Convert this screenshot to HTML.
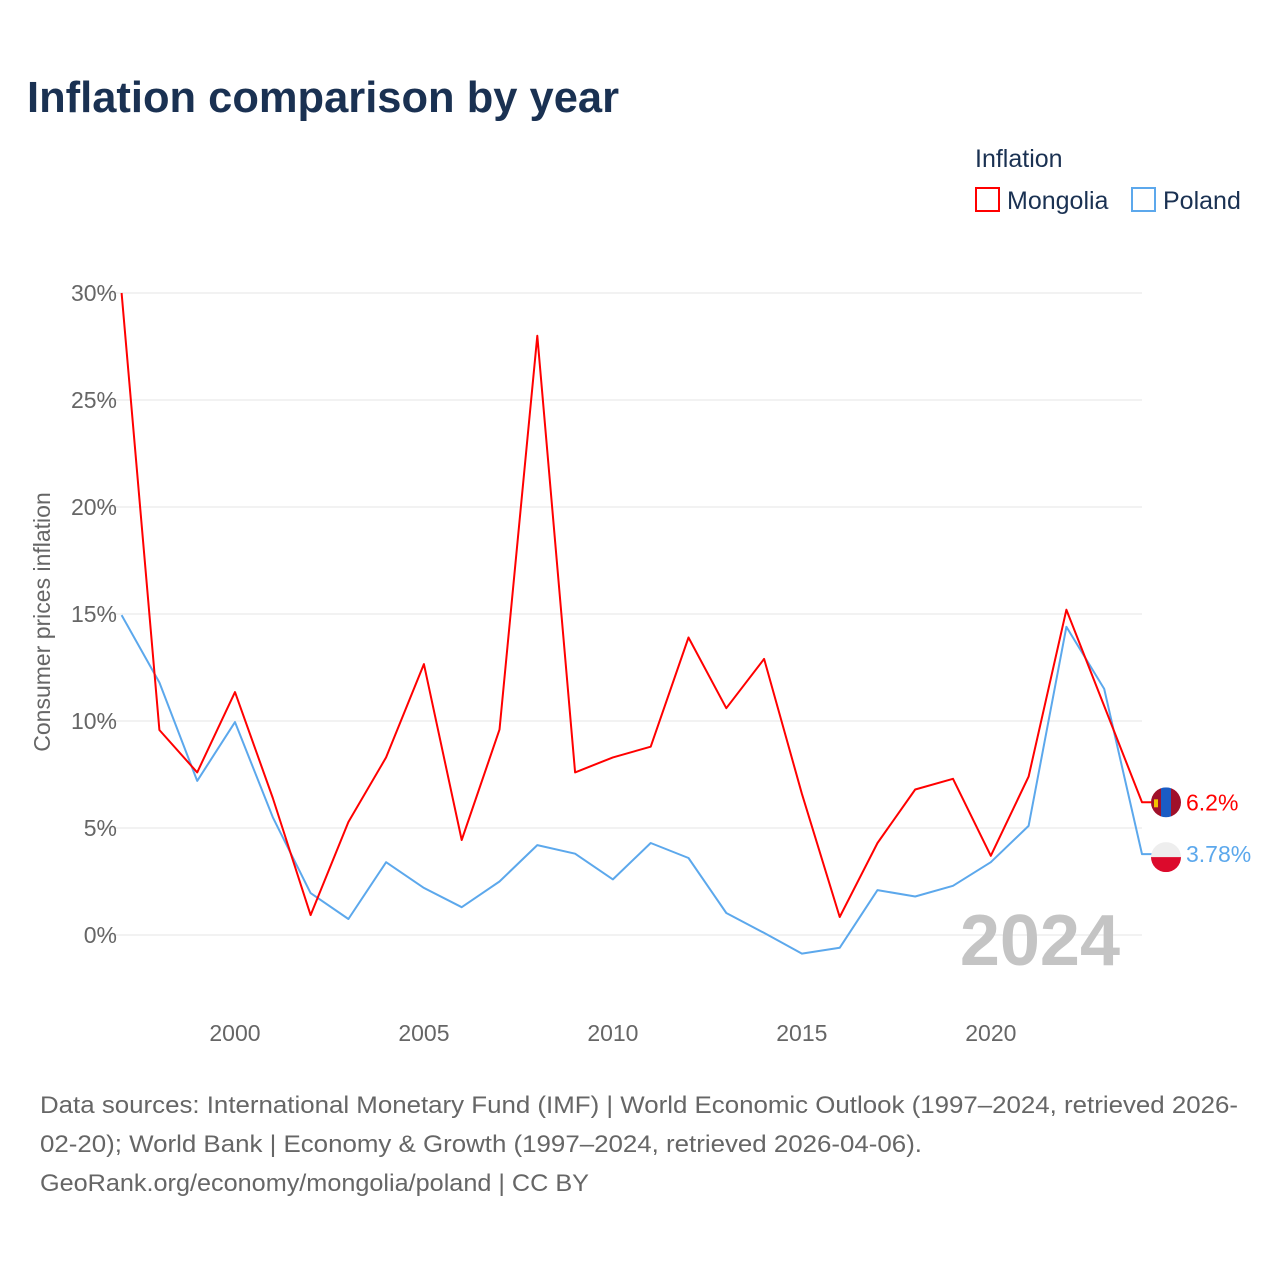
<!DOCTYPE html>
<html><head><meta charset="utf-8"><style>
body{margin:0;background:#fff;font-family:"Liberation Sans",sans-serif;}
#wrap{position:relative;width:1280px;height:1280px;overflow:hidden;}
</style></head><body>
<div id="wrap">
<svg id="svg" width="1280" height="1280" xmlns="http://www.w3.org/2000/svg">
<text x="27" y="112" font-size="44" font-weight="bold" fill="#1a3152" textLength="592" lengthAdjust="spacingAndGlyphs">Inflation comparison by year</text>
<text x="975" y="167" font-size="25" fill="#1a3152">Inflation</text>
<g>
<rect x="976" y="188" width="23" height="23" fill="none" stroke="#ff0000" stroke-width="2"/>
<text x="1007" y="209" font-size="25" fill="#1a3152">Mongolia</text></g>
<g>
<rect x="1132" y="188" width="23" height="23" fill="none" stroke="#5ca8ec" stroke-width="2"/>
<text x="1163" y="209" font-size="25" fill="#1a3152">Poland</text></g>
<text transform="translate(50,622) rotate(-90)" text-anchor="middle" font-size="23" fill="#666">Consumer prices inflation</text>
<g id="grid"></g><g id="yt"></g><g id="xt"></g>
<text x="1120" y="965" text-anchor="end" font-size="72" font-weight="bold" fill="#c4c4c4">2024</text>
<g id="series"></g>
<g id="ends"></g>
<g font-size="24" fill="#666">
<text x="40" y="1113" textLength="1198" lengthAdjust="spacingAndGlyphs">Data sources: International Monetary Fund (IMF) | World Economic Outlook (1997–2024, retrieved 2026-</text>
<text x="40" y="1152" textLength="882" lengthAdjust="spacingAndGlyphs">02-20); World Bank | Economy &amp; Growth (1997–2024, retrieved 2026-04-06).</text>
<text x="40" y="1191" textLength="549" lengthAdjust="spacingAndGlyphs">GeoRank.org/economy/mongolia/poland | CC BY</text>
</g>
</svg></div>
<script>
const years=[1997,1998,1999,2000,2001,2002,2003,2004,2005,2006,2007,2008,2009,2010,2011,2012,2013,2014,2015,2016,2017,2018,2019,2020,2021,2022,2023,2024];
const mongolia=[30,9.58,7.6,11.35,6.4,0.93,5.28,8.3,12.66,4.44,9.6,28.0,7.6,8.3,8.8,13.9,10.6,12.9,6.6,0.84,4.3,6.8,7.3,3.7,7.4,15.2,10.7,6.2];
const poland=[14.95,11.8,7.2,9.95,5.5,1.96,0.75,3.4,2.2,1.3,2.5,4.2,3.8,2.6,4.3,3.6,1.03,0.1,-0.87,-0.6,2.1,1.8,2.3,3.4,5.1,14.4,11.5,3.78];
const yTicks=[0,5,10,15,20,25,30];
const xTicks=[2000,2005,2010,2015,2020];
const NS="http://www.w3.org/2000/svg";
const X=v=>121.6+(v-1997)*(1142-121.6)/27;
const Y=v=>935-v*(935-293)/30;
function mk(t,a,p){const e=document.createElementNS(NS,t);for(const k in a)e.setAttribute(k,a[k]);p.appendChild(e);return e;}
const grid=document.getElementById('grid'),yt=document.getElementById('yt'),xt=document.getElementById('xt');
yTicks.forEach(v=>{
 const l=mk('line',{x1:100,x2:1142,y1:Y(v),y2:Y(v),stroke:'#e6e6e6','stroke-width':1},grid);
 
 
 const t=mk('text',{x:117,y:Y(v)+8,'text-anchor':'end','font-size':23,fill:'#666'},yt);
 t.textContent=v+'%';
 
 
});
xTicks.forEach(v=>{
 const t=mk('text',{x:X(v),y:1041,'text-anchor':'middle','font-size':23,fill:'#666'},xt);
 t.textContent=v;
 
 
});
const ser=document.getElementById('series');
function line(vals,col,name){
 let d=vals.map((v,i)=>(i?'L':'M')+X(years[i]).toFixed(1)+','+Y(v).toFixed(1)).join(' ');
 d+=' L'+(X(2024)+10)+','+Y(vals[vals.length-1]).toFixed(1);
 const p=mk('path',{d:d,fill:'none',stroke:col,'stroke-width':2,'stroke-linejoin':'round'},ser);
 
 
}
line(poland,'#5ca8ec','poland-line');
line(mongolia,'#ff0000','mongolia-line');
const ends=document.getElementById('ends');
// Mongolia flag
const ym=Y(mongolia[mongolia.length-1]);
const gm=mk('g',{},ends);


mk('clipPath',{id:'cm'},gm);mk('circle',{cx:1166,cy:ym,r:15},document.getElementById('cm'));
const gmc=mk('g',{'clip-path':'url(#cm)'},gm);
mk('rect',{x:1151,y:ym-15,width:10,height:30,fill:'#a0102a'},gmc);
mk('rect',{x:1161,y:ym-15,width:10,height:30,fill:'#1a5cc4'},gmc);
mk('rect',{x:1171,y:ym-15,width:10,height:30,fill:'#a0102a'},gmc);
mk('rect',{x:1154,y:ym-3,width:4,height:8,fill:'#f2c300'},gmc);
const tm=mk('text',{x:1186,y:ym+8,'font-size':23,fill:'#ff0000'},ends);
tm.textContent=mongolia[mongolia.length-1]+'%';


// Poland flag
const yp=Y(poland[poland.length-1]);
const gp=mk('g',{},ends);


mk('clipPath',{id:'cp'},gp);mk('circle',{cx:1166,cy:yp+3,r:15},document.getElementById('cp'));
const gpc=mk('g',{'clip-path':'url(#cp)'},gp);
mk('rect',{x:1151,y:yp-12,width:30,height:15,fill:'#eeeeee'},gpc);
mk('rect',{x:1151,y:yp+3,width:30,height:15,fill:'#dc0a2c'},gpc);
const tp=mk('text',{x:1186,y:yp+8,'font-size':23,fill:'#5ca8ec'},ends);
tp.textContent=poland[poland.length-1]+'%';


</script>
</body></html>
